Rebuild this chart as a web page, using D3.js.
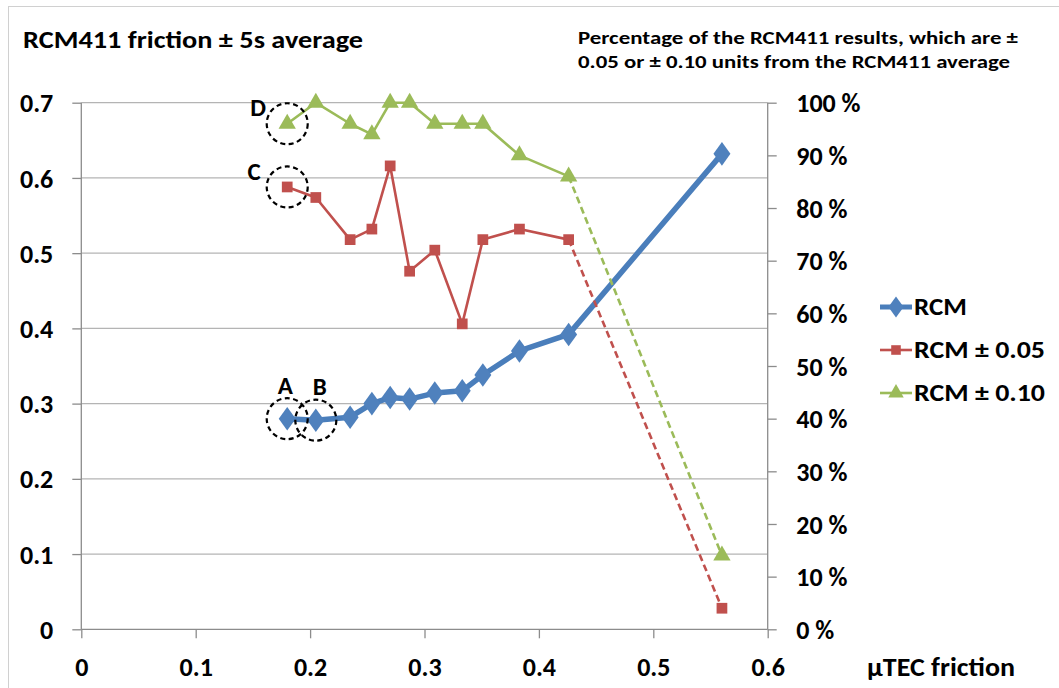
<!DOCTYPE html>
<html><head><meta charset="utf-8">
<script src="https://cdn.jsdelivr.net/npm/d3@7"></script>
<style>
html,body{margin:0;padding:0;background:#fff;}
svg text{font-family:Carlito,Lato,"Open Sans",sans-serif;font-weight:bold;fill:#000;}
</style></head>
<body><svg id="c" width="1059" height="688"></svg>
<script>
const xVals  = [0.18, 0.205, 0.235, 0.254, 0.27, 0.287, 0.309, 0.333, 0.351, 0.383, 0.426, 0.56];
const rcm    = [0.28, 0.278, 0.282, 0.300, 0.308, 0.306, 0.314, 0.317, 0.338, 0.370, 0.392, 0.632];
const pct05  = [84, 82, 74, 76, 88, 68, 72, 58, 74, 76, 74, 4];
const pct10  = [96, 100, 96, 94, 100, 100, 96, 96, 96, 90, 86, 14];
const xTicks = [0, 0.1, 0.2, 0.3, 0.4, 0.5, 0.6];
const yTicks = [0, 0.1, 0.2, 0.3, 0.4, 0.5, 0.6, 0.7];
const y2Ticks = [0, 10, 20, 30, 40, 50, 60, 70, 80, 90, 100];
const seriesNames = ["RCM", "RCM \u00b1 0.05", "RCM \u00b1 0.10"];
const annotations = [
  {label:"A", series:0, idx:0, dx:-2, dy:-33},
  {label:"B", series:0, idx:1, dx:4, dy:-34},
  {label:"C", series:1, idx:0, dx:-33, dy:-16},
  {label:"D", series:2, idx:0, dx:-29, dy:-17}
];

const svg = d3.select("#c");
const L = 81.3, R = 767.7, B = 629.3, T = 102.7;
const x = d3.scaleLinear().domain([0,0.6]).range([L,R]);
const y = d3.scaleLinear().domain([0,0.7]).range([B,T]);
const y2 = d3.scaleLinear().domain([0,100]).range([B,T]);

function fitWidth(sel, w){
  sel.attr("textLength", w).attr("lengthAdjust","spacingAndGlyphs");
}

// chart border
svg.append("rect").attr("x",8.5).attr("y",6.5).attr("width",1100).attr("height",800)
  .attr("fill","none").attr("stroke","#d0d0d0").attr("stroke-width",1);

const axisCol = "#8c8c8c";
// gridlines
svg.append("g").selectAll("line").data(yTicks.slice(1)).join("line")
  .attr("x1",L).attr("x2",R).attr("y1",d=>y(d)).attr("y2",d=>y(d))
  .attr("stroke","#b4b4b4").attr("stroke-width",1.3);

// axes
const gL = svg.append("g").attr("transform",`translate(${L},0)`)
  .call(d3.axisLeft(y).tickValues(yTicks).tickSize(9).tickPadding(19)
    .tickFormat(d=>d===0?"0":d.toFixed(1)));
const gR = svg.append("g").attr("transform",`translate(${R},0)`)
  .call(d3.axisRight(y2).tickValues(y2Ticks).tickSize(9).tickPadding(19.5)
    .tickFormat(d=>d+" %"));
const gB = svg.append("g").attr("transform",`translate(0,${B})`)
  .call(d3.axisBottom(x).tickValues(xTicks).tickSize(9).tickPadding(38)
    .tickFormat(d=>d===0?"0":d.toFixed(1)));
[gL,gR,gB].forEach(g=>{
  g.select(".domain").attr("stroke",axisCol).attr("stroke-width",1.3);
  g.selectAll(".tick line").attr("stroke",axisCol).attr("stroke-width",1.3);
  g.selectAll("text").attr("font-size",26).style("font-family","Carlito,Lato,sans-serif").style("font-weight","bold").attr("fill","#000");
});
gL.select(".domain").attr("d",`M0,${B}V${T}`);
gR.select(".domain").attr("d",`M0,${B}V${T}`);
gB.select(".domain").attr("d",`M${L},0H${R}`);
gL.selectAll("text").attr("dy","0.35em");
gR.selectAll("text").attr("dy","0.35em");
gB.selectAll("text").attr("dy","0");

// titles
fitWidth(svg.append("text").attr("x",23).attr("y",48).attr("font-size",25).text("RCM411 friction \u00b1 5s average"), 340);
fitWidth(svg.append("text").attr("x",578).attr("y",44).attr("font-size",18.5).text("Percentage of the RCM411 results, which are \u00b1"), 440);
fitWidth(svg.append("text").attr("x",578).attr("y",68).attr("font-size",18.5).text("0.05 or \u00b1 0.10 units from the RCM411 average"), 432);
fitWidth(svg.append("text").attr("x",867).attr("y",676).attr("font-size",26).text("\u00b5TEC friction"), 148);

const colors = ["#4a7ebb","#c0504d","#9bbb59"];
const markerFill = ["#4f81bd","#c0504d","#9bbb59"];
const series = [
  xVals.map((d,i)=>[x(d), y(rcm[i])]),
  xVals.map((d,i)=>[x(d), y2(pct05[i])]),
  xVals.map((d,i)=>[x(d), y2(pct10[i])])
];
const line = d3.line();
svg.append("path").attr("d",line(series[0])).attr("fill","none")
  .attr("stroke",colors[0]).attr("stroke-width",5.5).attr("stroke-linejoin","round");
[1,2].forEach(s=>{
  const pts = series[s];
  svg.append("path").attr("d",line(pts.slice(0,pts.length-1))).attr("fill","none")
    .attr("stroke",colors[s]).attr("stroke-width",2.6).attr("stroke-linejoin","round");
  svg.append("path").attr("d",line(pts.slice(pts.length-2))).attr("fill","none")
    .attr("stroke",colors[s]).attr("stroke-width",2.6).attr("stroke-dasharray","7,4");
});
const sym = [d3.symbolDiamond, d3.symbolSquare, d3.symbolTriangle];
const symSize = [160, 115, 130];
function marker(g, s, px, py, scale){
  let gen = d3.symbol().type(sym[s]).size(symSize[s]*(scale||1));
  let tr = `translate(${px},${py})`;
  if(s===0) tr += " scale(1.25,1)";
  g.append("path").attr("d",gen()).attr("transform",tr).attr("fill",markerFill[s]);
}
const mg = svg.append("g");
series.forEach((pts,s)=>pts.forEach(p=>marker(mg,s,p[0],p[1])));

// annotations
annotations.forEach(a=>{
  const p = series[a.series][a.idx];
  svg.append("circle").attr("cx",p[0]).attr("cy",p[1]).attr("r",20.5)
    .attr("fill","none").attr("stroke","#000").attr("stroke-width",2.2).attr("stroke-dasharray","5,3.5");
  svg.append("text").attr("x",p[0]+a.dx).attr("y",p[1]+a.dy).attr("dy","0.35em")
    .attr("text-anchor","middle").attr("font-size",25).text(a.label);
});

// legend
const lg = svg.append("g");
const legW = [53, 131, 131];
seriesNames.forEach((n,i)=>{
  const cy = 307 + i*43;
  lg.append("line").attr("x1",880).attr("x2",912).attr("y1",cy).attr("y2",cy)
    .attr("stroke",colors[i]).attr("stroke-width",i===0?5:2.6);
  marker(lg,i,896,cy,0.8);
  fitWidth(lg.append("text").attr("x",914).attr("y",cy).attr("dy","0.35em").attr("font-size",24).text(n), legW[i]);
});
</script></body></html>
